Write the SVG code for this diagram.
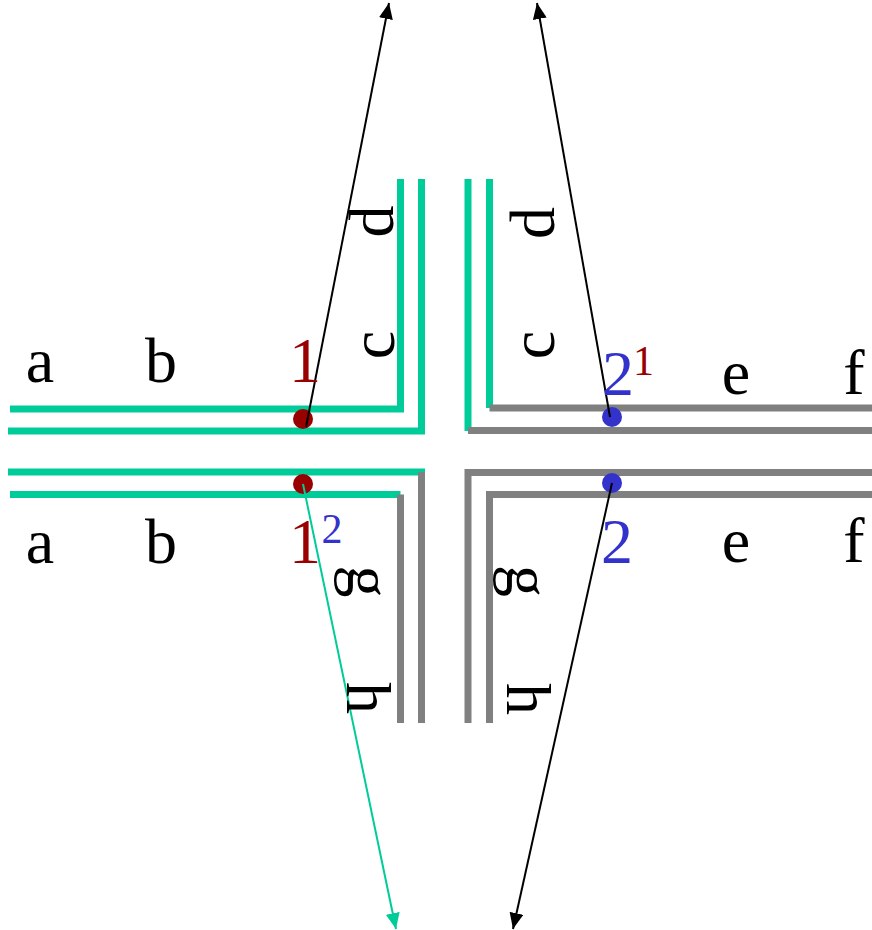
<svg xmlns="http://www.w3.org/2000/svg" width="872" height="930" viewBox="0 0 872 930">
<defs>
<style>
.g{fill:none;stroke:#00CC99;stroke-width:7;stroke-linejoin:miter}
.k{fill:none;stroke:#808080;stroke-width:7;stroke-linejoin:miter}
.t{font-family:"Liberation Serif","Times New Roman",serif;font-size:64px;text-anchor:middle;fill:#000}
.s{font-size:42px}
.red{fill:#990000}
.blue{fill:#3333CC}
.ar{stroke:#000;stroke-width:2;fill:none}
.arg{stroke:#00CC99;stroke-width:2;fill:none}
</style>
<marker id="mb" markerUnits="userSpaceOnUse" markerWidth="16" markerHeight="14" refX="16" refY="7" orient="auto"><path d="M0,0 L16,7 L0,14 Z" fill="#000"/></marker>
<marker id="mg" markerUnits="userSpaceOnUse" markerWidth="16" markerHeight="14" refX="16" refY="7" orient="auto"><path d="M0,0 L16,7 L0,14 Z" fill="#00CC99"/></marker>
</defs>
<rect width="872" height="930" fill="#fff"/>
<g id="lines">
<path class="g" d="M10,409 H400.5 V179"/>
<path class="g" d="M8,431 H421.5 V179"/>
<path class="g" d="M468,179 V431"/>
<path class="g" d="M489.5,179 V408"/>
<path class="k" d="M468,430.5 H872"/>
<path class="k" d="M489.5,408 H872"/>
<path class="g" d="M8,472 H425"/>
<path class="k" d="M421.5,472 V723"/>
<path class="g" d="M10,494.5 H400.5"/>
<path class="k" d="M400.5,494.5 V723"/>
<path class="k" d="M872,472.5 H468 V723"/>
<path class="k" d="M872,494.5 H489.5 V723"/>
</g>
<g id="dots">
<circle cx="303" cy="419" r="10" fill="#990000"/>
<circle cx="303" cy="484" r="10" fill="#990000"/>
<circle cx="612" cy="417" r="10" fill="#3333CC"/>
<circle cx="612" cy="483" r="10" fill="#3333CC"/>
</g>
<g id="connectors">
<line class="ar" x1="306" y1="427" x2="389" y2="3" marker-end="url(#mb)"/>
<line class="ar" x1="610" y1="417" x2="537" y2="3" marker-end="url(#mb)"/>
<line class="arg" x1="303" y1="484" x2="396" y2="929" marker-end="url(#mg)"/>
<line class="ar" x1="612" y1="483" x2="513" y2="929" marker-end="url(#mb)"/>
</g>
<g id="labels">
<text class="t" x="40" y="382">a</text>
<text class="t" x="161" y="382">b</text>
<text class="t" x="40" y="563">a</text>
<text class="t" x="161" y="563">b</text>
<text class="t" x="736" y="394">e</text>
<text class="t" x="854" y="394">f</text>
<text class="t" x="736" y="562">e</text>
<text class="t" x="854" y="562">f</text>
<text class="t" transform="translate(393,221.5) rotate(-90)">d</text>
<text class="t" transform="translate(554,223) rotate(-90)">d</text>
<text class="t" transform="translate(394,345) rotate(-90)">c</text>
<text class="t" transform="translate(554,345) rotate(-90)">c</text>
<text class="t" transform="translate(348,581.5) rotate(90)">g</text>
<text class="t" transform="translate(507,581) rotate(90)">g</text>
<text class="t" transform="translate(347,698) rotate(90)">h</text>
<text class="t" transform="translate(507,699) rotate(90)">h</text>
<text class="t red" x="305" y="382">1</text>
<text class="t blue" x="618" y="395">2</text>
<text class="t s red" x="643.5" y="375">1</text>
<text class="t red" x="305" y="563">1</text>
<text class="t s blue" x="332" y="543">2</text>
<text class="t blue" x="617" y="563">2</text>
</g>
</svg>
